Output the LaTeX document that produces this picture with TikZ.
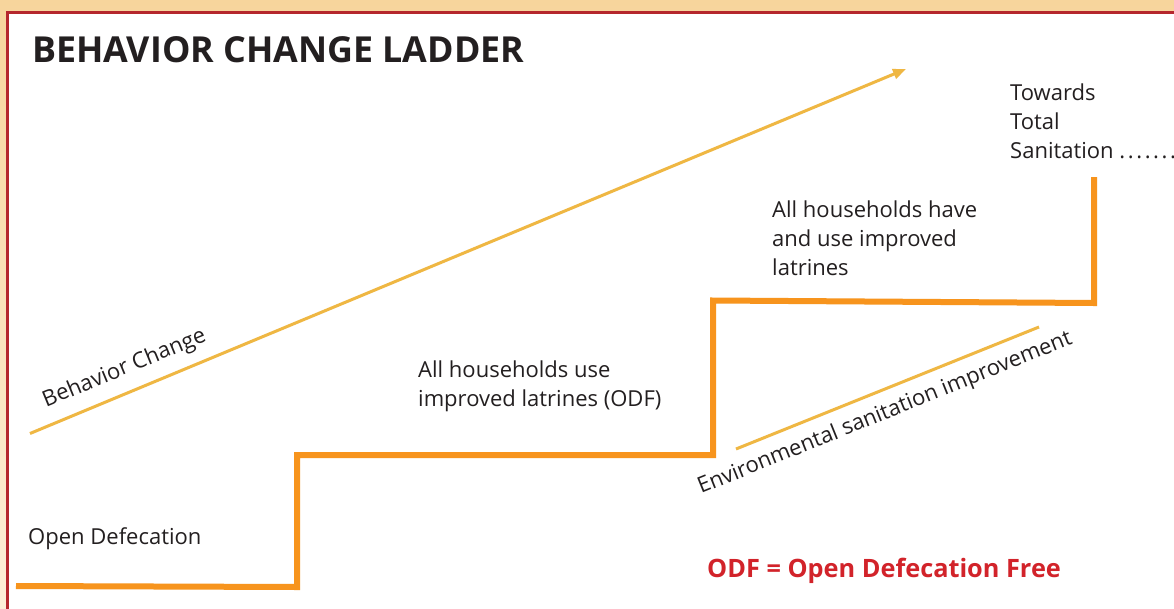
\documentclass[tikz,border=0pt]{standalone}
\usepackage{fontspec}
\setmainfont{Open Sans}
\usetikzlibrary{arrows.meta}
\definecolor{tanTop}{HTML}{F7D59C}
\definecolor{tanBot}{HTML}{FDEFD8}
\definecolor{frameRed}{HTML}{B5272D}
\definecolor{stairOrange}{HTML}{F7941D}
\definecolor{lineYellow}{HTML}{EFB743}
\definecolor{inkDark}{HTML}{231F20}
\definecolor{odfRed}{HTML}{D2232A}
\newcommand{\spreaddots}{.\kern2.6pt.\kern2.6pt.\kern2.6pt.\kern2.6pt.\kern2.6pt.\kern2.6pt.}
\tikzset{
  label text/.style={inner sep=0pt, anchor=base west, align=left, text=inkDark,
    font=\fontsize{22}{29}\selectfont},
  title text/.style={inner sep=0pt, anchor=base west, text=inkDark,
    font=\bfseries\fontsize{35.8}{40}\selectfont},
  odf text/.style={inner sep=0pt, anchor=base west, text=odfRed,
    font=\bfseries\fontsize{25.3}{30}\selectfont},
  stair line/.style={draw=stairOrange, line width=6pt, line join=miter},
  trend line/.style={draw=lineYellow, line width=3pt},
}
\begin{document}
\begin{tikzpicture}[x=1pt,y=-1pt]
\useasboundingbox (0,0) rectangle (1174,608);
% background and frame
\shade[top color=tanTop, bottom color=tanBot] (0,0) rectangle (1174,608);
\fill[white] (7.3,12.2) rectangle (1200,640);
\draw[frameRed, line width=2.6pt] (1200,12.2) -- (7.3,12.2) -- (7.3,640);

% title
\node[title text] (title) at (32,62.5) {BEHAVIOR CHANGE LADDER};

% staircase
\coordinate (s0) at (16,586);
\coordinate (s1) at (297,587);
\coordinate (s2) at (297,455);
\coordinate (s3) at (713,455);
\coordinate (s4) at (713,300.5);
\coordinate (s5) at (1094,303);
\coordinate (s6) at (1094,177);
\draw[stair line] (s0) -- (s1) -- (s2) -- (s3) -- (s4) -- (s5) -- (s6);

% behavior change arrow
\coordinate (bcStart) at (30,433.5);
\coordinate (bcEnd) at (906,69);
\draw[trend line, -{Triangle[length=13pt,width=10pt]}] (bcStart) -- (bcEnd);
\node[label text, rotate=22.5] (bcText) at (46,407.5) {Behavior Change};

% environmental sanitation line
\coordinate (esStart) at (736,449);
\coordinate (esEnd) at (1039,327);
\draw[trend line] (esStart) -- (esEnd);
\node[label text, rotate=22] (esText) at (701,494) {Environmental sanitation improvement};

% step labels (base anchor = baseline of the last line)
\node[label text] (open) at (28,544) {Open Defecation};
\node[label text] (odfStep) at (418,406.5) {All households use\\improved latrines (ODF)};
\node[label text] (haveUse) at (772,275) {All households have\\and use improved\\latrines};
\node[label text] (towards) at (1010,158) {Towards\\Total\\Sanitation \spreaddots};

% legend
\node[odf text] (legend) at (707,577) {ODF = Open Defecation Free};
\end{tikzpicture}
\end{document}
